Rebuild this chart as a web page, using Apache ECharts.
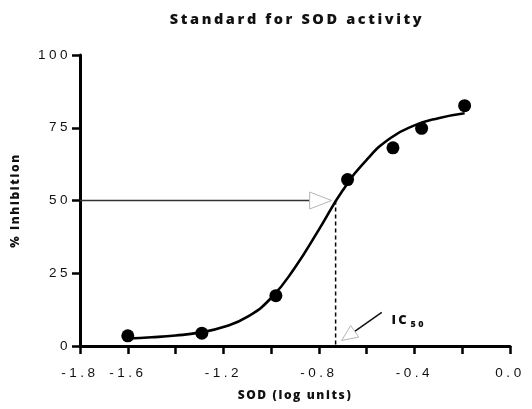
<!DOCTYPE html>
<html><head><meta charset="utf-8">
<script src="https://cdn.jsdelivr.net/npm/echarts@6/dist/echarts.min.js"></script>
<style>html,body{margin:0;padding:0;background:#fff}#c{width:532px;height:409px}</style>
</head><body><div id="c"></div>
<script>
const titleText = 'Standard for SOD activity';
const xName = 'SOD (log units)';
const yName = '% Inhibition';
const xTickLabels = ['-1.8', '-1.6', '-1.2', '-0.8', '-0.4', '0.0'];
const yTickLabels = ['0', '25', '50', '75', '100'];
const pointX = [-1.6, -1.29, -0.98, -0.68, -0.49, -0.37, -0.19];
const pointY = [3.5, 4.4, 17.3, 57.2, 68.1, 74.8, 82.6];
const curveX = [-1.6, -1.5, -1.4, -1.3, -1.2, -1.1, -1.0, -0.9, -0.8, -0.7, -0.6, -0.5, -0.4, -0.3, -0.19];
const curveY = [2.6, 3.0, 3.6, 4.6, 6.5, 10.0, 16.5, 27.0, 40.0, 53.5, 64.0, 71.5, 75.8, 78.3, 80.0];
const ic50 = -0.73;
const halfLevel = 50;
const icLabel = 'IC';
const icSub = '50';

// letter-spaced text, as in the reference
const _fill = CanvasRenderingContext2D.prototype.fillText;
CanvasRenderingContext2D.prototype.fillText = function (t, x, y, m) {
  const f = this.font || '';
  const mm = f.match(/(\d+(\.\d+)?)px/);
  const sz = mm ? parseFloat(mm[1]) : 12;
  let sp;
  if (/bold|[6-9]00/.test(f)) sp = sz >= 14 ? 2.6 : (sz >= 12.5 ? 2.2 : (sz >= 11 ? 1.6 : 2.4));
  else sp = 3.5;
  try { this.letterSpacing = sp + 'px'; } catch (e) {}
  return m === undefined ? _fill.call(this, t, x, y) : _fill.call(this, t, x, y, m);
};

const chart = echarts.init(document.getElementById('c'), null, { renderer: 'canvas' });
const xMin = -1.8, xMax = 0, yMin = 0, yMax = 100;
const boldFont = 'Open Sans';
const axisCol = '#000';

chart.setOption({
  animation: false,
  backgroundColor: '#fff',
  title: {
    text: titleText, left: 292, top: 7, textAlign: 'center',
    textStyle: { fontFamily: boldFont, fontWeight: 800, fontSize: 14.5, color: '#111' }
  },
  grid: { left: 80, right: 22, top: 55, bottom: 63, containLabel: false },
  xAxis: {
    type: 'value', min: xMin, max: xMax, interval: 0.2,
    name: xName, nameLocation: 'middle', nameGap: 44,
    nameTextStyle: { fontFamily: boldFont, fontWeight: 800, fontSize: 12, color: '#111' },
    axisLine: { show: true, onZero: false, lineStyle: { color: axisCol, width: 3 } },
    axisTick: { show: true, length: 8, lineStyle: { color: axisCol, width: 2.5 } },
    splitLine: { show: false },
    axisLabel: {
      interval: 0, margin: 20, fontFamily: 'Liberation Sans', fontSize: 13.5, color: '#111',
      formatter: v => { const s = (Math.abs(v) < 1e-9 ? 0 : v).toFixed(1); return xTickLabels.includes(s) ? s : ''; }
    }
  },
  yAxis: {
    type: 'value', min: yMin, max: yMax, interval: 25,
    name: yName, nameLocation: 'middle', nameGap: 58, nameRotate: 90,
    nameTextStyle: { fontFamily: boldFont, fontWeight: 800, fontSize: 12, color: '#111' },
    axisLine: { show: true, onZero: false, lineStyle: { color: axisCol, width: 3 } },
    axisTick: { show: true, length: 8, lineStyle: { color: axisCol, width: 2.5 } },
    splitLine: { show: false },
    axisLabel: {
      margin: 9, fontFamily: 'Liberation Sans', fontSize: 13.5, color: '#111',
      formatter: v => yTickLabels.includes(String(Math.round(v))) ? String(Math.round(v)) : ''
    }
  },
  series: [
    {
      type: 'line', name: 'fit', data: curveX.map((x, i) => [x, curveY[i]]),
      smooth: 0.5, symbol: 'none', lineStyle: { color: '#000', width: 2.6 }, z: 3
    },
    {
      type: 'scatter', name: 'points', data: pointX.map((x, i) => [x, pointY[i]]),
      symbol: 'circle', symbolSize: 13, itemStyle: { color: '#000', opacity: 1 }, z: 4
    },
    {
      type: 'line', name: 'ic50drop', data: [[ic50, halfLevel], [ic50, yMin]],
      symbol: 'none', lineStyle: { color: '#000', width: 1.5, type: [4, 3] }, z: 2
    }
  ]
});

// annotation arrows placed from data values
const tip = chart.convertToPixel({ gridIndex: 0 }, [ic50, halfLevel]);
const start = chart.convertToPixel({ gridIndex: 0 }, [xMin, halfLevel]);
const foot = chart.convertToPixel({ gridIndex: 0 }, [ic50, yMin]);
const hTipX = tip[0] - 4, hy = tip[1];
const T = [foot[0] + 6, foot[1] - 5.5];
const ux = 0.819, uy = -0.573, nx = 0.573, ny = 0.819;
const B = [T[0] + 16 * ux, T[1] + 16 * uy];
const tail = [T[0] + 49 * ux, T[1] + 49 * uy];
chart.setOption({
  graphic: [
    { type: 'line', shape: { x1: start[0], y1: hy, x2: hTipX - 20, y2: hy }, style: { stroke: '#333', lineWidth: 1.5 }, z: 5 },
    { type: 'polygon', shape: { points: [[hTipX, hy], [hTipX - 22, hy - 8.5], [hTipX - 22, hy + 8.5]] }, style: { fill: '#fff', stroke: '#b5b5b5', lineWidth: 1 }, z: 6 },
    { type: 'line', shape: { x1: tail[0], y1: tail[1], x2: B[0], y2: B[1] }, style: { stroke: '#111', lineWidth: 1.5 }, z: 5 },
    { type: 'polygon', shape: { points: [T, [B[0] + 7 * nx, B[1] + 7 * ny], [B[0] - 7 * nx, B[1] - 7 * ny]] }, style: { fill: '#fff', stroke: '#b5b5b5', lineWidth: 1 }, z: 6 },
    { type: 'text', x: foot[0] + 56, y: foot[1] - 32, style: { text: icLabel, font: '800 13px "Open Sans"', fill: '#111', verticalAlign: 'alphabetic' }, z: 6 },
    { type: 'text', x: foot[0] + 75, y: foot[1] - 26.5, style: { text: icSub, font: '800 9px "Open Sans"', fill: '#111', verticalAlign: 'alphabetic' }, z: 6 }
  ]
});
</script>
</body></html>
